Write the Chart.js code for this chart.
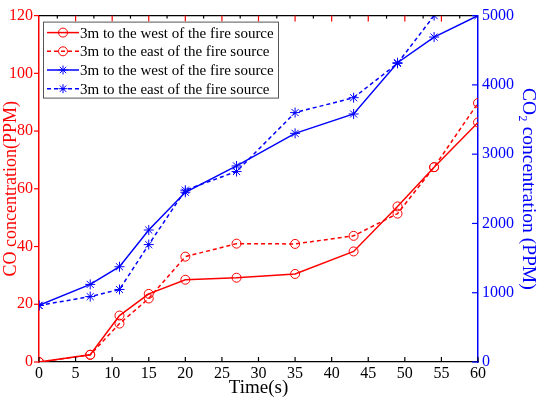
<!DOCTYPE html>
<html>
<head>
<meta charset="utf-8">
<script src="https://cdn.jsdelivr.net/npm/chart.js@4.4.1/dist/chart.umd.min.js"></script>
<style>
  html, body { margin: 0; padding: 0; background: #fff; }
  #wrap { width: 540px; height: 399px; }
</style>
</head>
<body>
<div id="wrap"><canvas id="gasChart" width="540" height="399"></canvas></div>
<script>
"use strict";

// время (с) и концентрации
const timeCO = [0, 7, 11, 15, 20, 27, 35, 43, 49, 54, 60];
const coWest = [0, 2.5, 16.1, 23.6, 28.5, 29.2, 30.5, 38.3, 53.9, 67.5, 83];
const coEast = [0, 2.5, 13.3, 22, 36.5, 41, 40.9, 43.7, 51.4, 67.5, 89.7];
const timeCO2West = [0, 7, 11, 15, 20, 27, 35, 43, 49, 54, 60];
const co2West = [817, 1120, 1375, 1905, 2450, 2830, 3300, 3580, 4320, 4690, 5000];
const timeCO2East = [0, 7, 11, 15, 20, 27, 35, 43, 49, 54];
const co2East = [817, 944, 1047, 1695, 2480, 2750, 3600, 3815, 4310, 5000];

const seriesLabels = [
    '3m to the west of the fire source',
    '3m to the east of the fire source',
    '3m to the west of the fire source',
    '3m to the east of the fire source'
];
const xRange = [0, 60];
const coRange = [0, 120];
const co2Range = [0, 5000];

const RED = '#ff0000';
const BLUE = '#0000ff';
const FONT = "'Liberation Serif', 'Times New Roman', serif";

function toPoints(xs, ys) {
    return xs.map((x, i) => ({ x: x, y: ys[i] }));
}

function drawMarker(ctx, style, x, y, r) {
    ctx.beginPath();
    if (style === 'circle') {
        ctx.arc(x, y, r, 0, Math.PI * 2);
    } else {
        const d = r * Math.SQRT1_2;
        ctx.moveTo(x - r, y); ctx.lineTo(x + r, y);
        ctx.moveTo(x, y - r); ctx.lineTo(x, y + r);
        ctx.moveTo(x - d, y - d); ctx.lineTo(x + d, y + d);
        ctx.moveTo(x - d, y + d); ctx.lineTo(x + d, y - d);
    }
    ctx.stroke();
}

// рамка, засечки и легенда в стиле MATLAB
const framePlugin = {
    id: 'frame',
    afterDraw(chart) {
        const ctx = chart.ctx;
        const a = chart.chartArea;
        const sx = chart.scales.x, yl = chart.scales.y, yr = chart.scales.y1;
        const seg = (x1, y1, x2, y2) => { ctx.beginPath(); ctx.moveTo(x1, y1); ctx.lineTo(x2, y2); ctx.stroke(); };

        ctx.save();
        ctx.lineWidth = 1.2;
        ctx.strokeStyle = '#000';
        seg(a.left, a.top, a.right, a.top);
        sx.ticks.forEach(t => {
            const px = sx.getPixelForValue(t.value);
            seg(px, a.bottom, px, a.bottom - 5);
        });
        for (let v = 2.5; v < xRange[1]; v += 5) {
            const px = sx.getPixelForValue(v);
            seg(px, a.top, px, a.top + 3);
        }
        ctx.strokeStyle = RED;
        sx.ticks.forEach(t => {
            if (t.value <= xRange[0] || t.value >= xRange[1]) return;
            const px = sx.getPixelForValue(t.value);
            seg(px, a.top, px, a.top + 6);
        });
        yl.ticks.forEach(t => {
            const py = yl.getPixelForValue(t.value);
            seg(a.left - 5, py, a.left, py);
        });
        ctx.strokeStyle = BLUE;
        yr.ticks.forEach(t => {
            const py = yr.getPixelForValue(t.value);
            seg(a.right - 6, py, a.right, py);
        });

        // легенда
        const bx = a.left + 4, by = a.top + 6, bw = 235, bh = 76, row = 18.7;
        ctx.fillStyle = '#fff';
        ctx.fillRect(bx, by, bw, bh);
        ctx.strokeStyle = '#555';
        ctx.lineWidth = 1;
        ctx.strokeRect(bx + 0.5, by + 0.5, bw, bh);
        ctx.font = '15px ' + FONT;
        ctx.textBaseline = 'middle';
        ctx.textAlign = 'left';
        chart.data.datasets.forEach((ds, i) => {
            const cy = by + 11 + i * row;
            ctx.strokeStyle = ds.borderColor;
            ctx.lineWidth = 1.5;
            ctx.setLineDash(ds.borderDash || []);
            seg(bx + 4, cy, bx + 36, cy);
            ctx.setLineDash([]);
            ctx.lineWidth = 1;
            drawMarker(ctx, ds.pointStyle, bx + 20, cy, 4.5);
            ctx.fillStyle = '#000';
            ctx.fillText(ds.label, bx + 37, cy + 1);
        });
        ctx.restore();
    }
};

const dash = [4, 3];
const plainNumber = v => String(v);

new Chart(document.getElementById('gasChart'), {
    type: 'line',
    data: {
        datasets: [
            {
                label: seriesLabels[0],
                data: toPoints(timeCO, coWest),
                yAxisID: 'y',
                borderColor: RED,
                borderWidth: 1.5,
                pointStyle: 'circle',
                pointRadius: 4.5,
                pointBorderColor: RED,
                pointBorderWidth: 1,
                pointBackgroundColor: 'rgba(0,0,0,0)'
            },
            {
                label: seriesLabels[1],
                data: toPoints(timeCO, coEast),
                yAxisID: 'y',
                borderColor: RED,
                borderWidth: 1.5,
                borderDash: dash,
                pointStyle: 'circle',
                pointRadius: 4.5,
                pointBorderColor: RED,
                pointBorderWidth: 1,
                pointBackgroundColor: 'rgba(0,0,0,0)'
            },
            {
                label: seriesLabels[2],
                data: toPoints(timeCO2West, co2West),
                yAxisID: 'y1',
                borderColor: BLUE,
                borderWidth: 1.5,
                pointStyle: 'star',
                pointRadius: 5,
                pointBorderColor: BLUE,
                pointBorderWidth: 1
            },
            {
                label: seriesLabels[3],
                data: toPoints(timeCO2East, co2East),
                yAxisID: 'y1',
                borderColor: BLUE,
                borderWidth: 1.5,
                borderDash: dash,
                pointStyle: 'star',
                pointRadius: 5,
                pointBorderColor: BLUE,
                pointBorderWidth: 1
            }
        ]
    },
    options: {
        responsive: false,
        animation: false,
        layout: { padding: { top: 7, left: 0, right: 0, bottom: 0 } },
        plugins: {
            legend: { display: false },
            tooltip: { enabled: false }
        },
        scales: {
            x: {
                type: 'linear',
                min: xRange[0],
                max: xRange[1],
                grid: { display: false, drawTicks: false },
                border: { color: '#000', width: 1.2 },
                ticks: { stepSize: 5, color: '#000', padding: 2, font: { family: FONT, size: 16 }, maxRotation: 0, callback: plainNumber },
                title: { display: true, text: 'Time(s)', color: '#000', padding: { top: 0, bottom: 0 }, font: { family: FONT, size: 19 } },
                afterFit: s => { s.height = 37; }
            },
            y: {
                position: 'left',
                min: coRange[0],
                max: coRange[1],
                grid: { display: false, drawTicks: false },
                border: { color: RED, width: 1.5 },
                ticks: { stepSize: 20, color: RED, padding: 6, font: { family: FONT, size: 16 }, callback: plainNumber },
                title: { display: true, text: 'CO concentration(PPM)', color: RED, padding: { top: 0, bottom: 0 }, font: { family: FONT, size: 18 } },
                afterFit: s => { s.width = 39; }
            },
            y1: {
                position: 'right',
                min: co2Range[0],
                max: co2Range[1],
                grid: { display: false, drawTicks: false },
                border: { color: BLUE, width: 1.5 },
                ticks: { stepSize: 1000, color: BLUE, padding: 4, font: { family: FONT, size: 16 }, callback: plainNumber },
                title: { display: true, text: 'CO\u2082 concentration (PPM)', color: BLUE, padding: { top: 0, bottom: 0 }, font: { family: FONT, size: 19.5 } },
                afterFit: s => { s.width = 62; }
            }
        }
    },
    plugins: [framePlugin]
});
</script>
</body>
</html>
